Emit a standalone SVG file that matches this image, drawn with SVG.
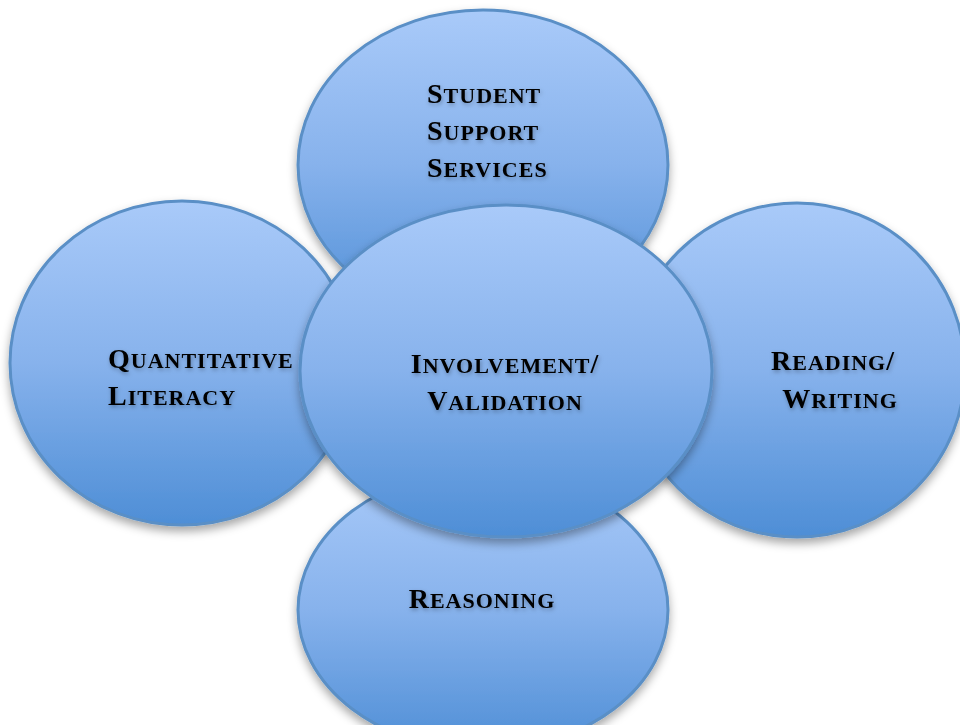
<svg xmlns="http://www.w3.org/2000/svg" width="960" height="725" viewBox="0 0 960 725">
<defs>
<linearGradient id="g" x1="0" y1="0" x2="0" y2="1">
<stop offset="0" stop-color="#a9caf9"/>
<stop offset="0.5" stop-color="#87b2ec"/>
<stop offset="1" stop-color="#4e8ed6"/>
</linearGradient>
<filter id="sh" x="-10%" y="-10%" width="120%" height="125%">
<feDropShadow dx="0" dy="5" stdDeviation="5" flood-color="#000" flood-opacity="0.35"/>
</filter>
<filter id="ts" x="-10%" y="-20%" width="120%" height="150%">
<feDropShadow dx="1" dy="2" stdDeviation="2" flood-color="#000" flood-opacity="0.3"/>
</filter>
</defs>
<style>
.e{fill:url(#g);stroke:#5a8fc6;stroke-width:3;filter:url(#sh)}
.t{font-family:"Liberation Serif",serif;font-weight:bold;font-size:28px;fill:#000;filter:url(#ts);letter-spacing:1px}
.s{font-size:22px}
</style>
<rect width="960" height="725" fill="#fff"/>
<g id="reasoning">
<ellipse class="e" cx="483" cy="610" rx="185" ry="140"/>
<text class="t" x="482" y="608" text-anchor="middle">R<tspan class="s">EASONING</tspan></text>
</g>
<g id="quantitative">
<ellipse class="e" cx="182" cy="363" rx="172" ry="162"/>
<text class="t" x="108" y="368">Q<tspan class="s">UANTITATIVE</tspan></text>
<text class="t" x="108" y="405">L<tspan class="s">ITERACY</tspan></text>
</g>
<g id="reading">
<ellipse class="e" cx="797" cy="370" rx="168" ry="167"/>
<text class="t" x="833" y="370" text-anchor="middle">R<tspan class="s">EADING</tspan>/</text>
<text class="t" x="840" y="408" text-anchor="middle">W<tspan class="s">RITING</tspan></text>
</g>
<g id="student">
<ellipse class="e" cx="483" cy="165" rx="185" ry="155"/>
<text class="t" x="427" y="103">S<tspan class="s">TUDENT</tspan></text>
<text class="t" x="427" y="140">S<tspan class="s">UPPORT</tspan></text>
<text class="t" x="427" y="177">S<tspan class="s">ERVICES</tspan></text>
</g>
<g id="involvement">
<ellipse class="e" cx="506" cy="371" rx="206" ry="166"/>
<text class="t" x="505" y="373" text-anchor="middle">I<tspan class="s">NVOLVEMENT</tspan>/</text>
<text class="t" x="505" y="410" text-anchor="middle">V<tspan class="s">ALIDATION</tspan></text>
</g>
<g id="connectors"/>
</svg>
